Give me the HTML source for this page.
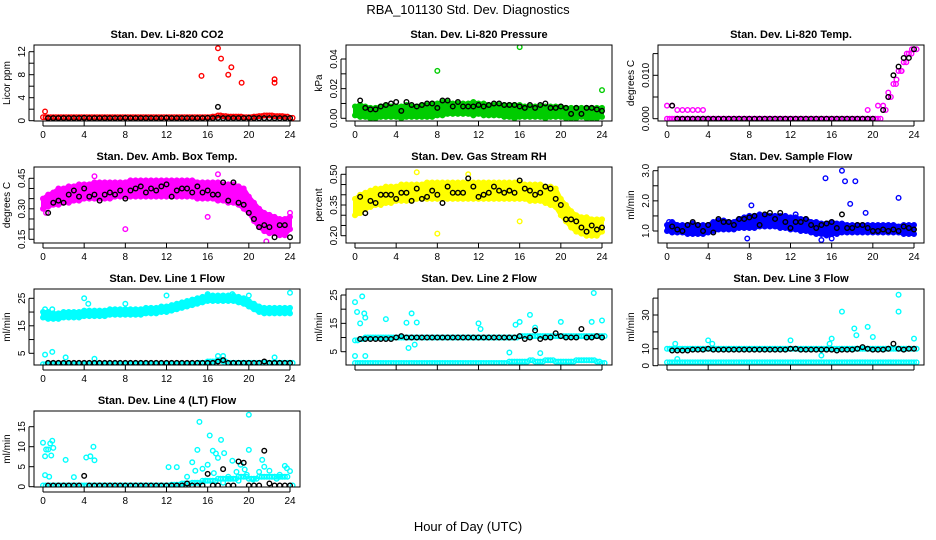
<!DOCTYPE html>
<html><head><meta charset="utf-8"><style>
body{margin:0;background:#fff}
svg{display:block;font-family:"Liberation Sans",sans-serif}
</style></head><body>
<svg id="c" width="936" height="540" viewBox="0 0 936 540">
<text x="468" y="14" text-anchor="middle" font-size="13">RBA_101130  Std. Dev. Diagnostics</text>
<text x="468" y="531" text-anchor="middle" font-size="13">Hour of Day (UTC)</text>
</svg>
<script>
const hours=[0,0.5,1,1.5,2,2.5,3,3.5,4,4.5,5,5.5,6,6.5,7,7.5,8,8.5,9,9.5,10,10.5,11,11.5,12,12.5,13,13.5,14,14.5,15,15.5,16,16.5,17,17.5,18,18.5,19,19.5,20,20.5,21,21.5,22,22.5,23,23.5,24];
const xTicks=[0,4,8,12,16,20,24];
// CO2
const co2Red=[0.6,0.6,0.6,0.6,0.6,0.6,0.6,0.6,0.6,0.6,0.6,0.6,0.6,0.6,0.6,0.6,0.6,0.6,0.6,0.6,0.6,0.6,0.6,0.6,0.6,0.6,0.6,0.6,0.6,0.6,0.6,0.6,0.6,0.7,0.9,0.8,0.7,0.7,0.7,0.6,0.6,0.7,0.8,0.9,0.9,0.8,0.8,0.7,0.5];
const co2Black=[null,0.45,0.45,0.45,0.45,0.45,0.45,0.45,0.5,0.45,0.45,0.45,0.45,0.45,0.45,0.45,0.5,0.45,0.45,0.45,0.45,0.45,0.45,0.45,0.5,0.45,0.45,0.45,0.45,0.45,0.45,0.45,0.5,0.45,0.5,0.45,0.45,0.45,0.45,0.45,0.5,0.45,0.45,0.45,0.45,0.45,0.45,0.45,0.45];
const co2OutX=[0.2,15.4,17,17.3,18,18.3,19.3,22.5,22.5];
const co2OutY=[1.6,7.8,12.6,10.8,8,9.3,6.6,7.2,6.6];
const co2BOutX=[17];const co2BOutY=[2.4];
// Pressure
const presHi=[0.008,0.009,0.008,0.007,0.007,0.008,0.009,0.008,0.008,0.008,0.009,0.008,0.008,0.009,0.009,0.010,0.010,0.011,0.011,0.010,0.010,0.010,0.010,0.011,0.010,0.010,0.009,0.009,0.009,0.009,0.009,0.009,0.009,0.008,0.008,0.008,0.008,0.008,0.008,0.008,0.008,0.007,0.007,0.007,0.007,0.007,0.007,0.007,0.007];
const presLo=[0.002,0.001,0.001,0.000,0.000,0.001,0.001,0.001,0.001,0.000,0.001,0.001,0.001,0.001,0.001,0.001,0.002,0.002,0.003,0.003,0.003,0.003,0.003,0.002,0.003,0.002,0.002,0.002,0.002,0.001,0.001,0.000,0.001,0.001,0.001,0.001,0.001,0.000,0.001,0.001,0.001,0.000,0.000,0.000,0.001,0.000,0.000,0.000,0.001];
const presBlack=[null,0.012,0.007,0.006,0.006,0.008,0.009,0.010,0.011,0.005,0.011,0.009,0.008,0.009,0.010,0.010,0.007,0.012,0.012,0.008,0.011,0.008,0.008,0.008,0.009,0.008,0.009,0.010,0.010,0.009,0.009,0.009,0.008,0.007,0.009,0.007,0.009,0.010,0.007,0.007,0.008,0.007,0.003,0.007,0.003,0.007,0.007,0.006,0.005];
const presOutX=[8,16,24];const presOutY=[0.032,0.048,0.019];
// Li-820 temp
const tempMag=[0,0,0,0,0,0,0,0,0,0,0,0,0,0,0,0,0,0,0,0,0,0,0,0,0,0,0,0,0,0,0,0,0,0,0,0,0,0,0,0,0,0,0.002,0.005,0.008,0.011,0.013,0.015,0.016];
const tempBlack=[null,0.003,0,0,0,0,0,0,0,0,0,0,0,0,0,0,0,0,0,0,0,0,0,0,0,0,0,0,0,0,0,0,0,0,0,0,0,0,0,0,0,null,0.002,0.005,0.010,0.012,0.014,0.014,0.016];
const tempOutX=[0,0.5,1,1.5,2,2.5,3,3.5,19.5,20.5,21,21.5,22.3,22.8,23.3,23.8];
const tempOutY=[0.003,0.003,0.002,0.002,0.002,0.002,0.002,0.002,0.002,0.003,0.003,0.006,0.009,0.011,0.015,0.016];
// Amb box temp
const ambHi=[0.35,0.37,0.38,0.40,0.40,0.41,0.41,0.42,0.42,0.42,0.43,0.43,0.43,0.43,0.43,0.43,0.43,0.44,0.44,0.44,0.44,0.44,0.44,0.44,0.44,0.44,0.44,0.44,0.44,0.44,0.43,0.43,0.43,0.43,0.43,0.42,0.42,0.42,0.41,0.40,0.36,0.33,0.30,0.28,0.27,0.26,0.25,0.25,0.26];
const ambLo=[0.30,0.31,0.32,0.32,0.33,0.33,0.34,0.34,0.35,0.35,0.35,0.35,0.35,0.35,0.36,0.36,0.36,0.36,0.36,0.36,0.36,0.36,0.36,0.36,0.36,0.36,0.36,0.36,0.36,0.36,0.35,0.35,0.35,0.35,0.34,0.34,0.33,0.33,0.32,0.30,0.28,0.24,0.21,0.19,0.18,0.18,0.17,0.17,0.20];
const ambBlack=[null,0.28,0.33,0.34,0.33,0.37,0.39,0.36,0.40,0.36,0.37,0.34,0.37,0.38,0.37,0.39,0.35,0.39,0.40,0.41,0.38,0.40,0.39,0.41,0.42,0.36,0.39,0.40,0.40,0.38,0.41,0.38,0.39,0.37,0.37,0.43,0.34,0.43,0.33,0.32,0.28,0.25,0.21,0.22,0.21,0.16,0.22,0.22,0.16];
const ambOutX=[8,16,0.3,21.7,24,17,5];const ambOutY=[0.20,0.26,0.28,0.14,0.28,0.47,0.46];
// RH
const rhHi=[0.38,0.40,0.41,0.42,0.43,0.43,0.44,0.44,0.44,0.45,0.45,0.45,0.45,0.45,0.46,0.46,0.46,0.46,0.46,0.46,0.46,0.46,0.46,0.46,0.46,0.46,0.46,0.46,0.46,0.46,0.46,0.46,0.46,0.45,0.45,0.45,0.45,0.44,0.44,0.43,0.38,0.35,0.32,0.30,0.29,0.29,0.28,0.28,0.28];
const rhLo=[0.30,0.31,0.33,0.34,0.35,0.35,0.36,0.36,0.37,0.37,0.37,0.37,0.38,0.38,0.38,0.38,0.38,0.38,0.38,0.38,0.38,0.38,0.38,0.38,0.38,0.38,0.38,0.38,0.38,0.38,0.38,0.38,0.38,0.38,0.37,0.37,0.37,0.36,0.35,0.34,0.30,0.27,0.24,0.22,0.21,0.20,0.20,0.20,0.22];
const rhBlack=[null,0.39,0.31,0.37,0.36,0.40,0.40,0.40,0.38,0.41,0.41,0.37,0.43,0.38,0.39,0.42,0.40,0.36,0.44,0.41,0.41,0.41,0.48,0.44,0.39,0.40,0.41,0.44,0.42,0.41,0.42,0.41,0.47,0.43,0.42,0.40,0.41,0.44,0.43,0.38,0.35,0.28,0.28,0.27,0.24,0.22,0.25,0.23,0.24];
const rhOutX=[8,16,6,11,24];const rhOutY=[0.21,0.27,0.51,0.50,0.28];
// Sample flow
const sfHi=[1.2,1.3,1.2,1.2,1.2,1.25,1.2,1.2,1.2,1.3,1.35,1.35,1.3,1.3,1.4,1.45,1.5,1.5,1.55,1.5,1.5,1.5,1.5,1.5,1.45,1.45,1.4,1.4,1.3,1.3,1.25,1.25,1.3,1.25,1.25,1.2,1.2,1.2,1.2,1.2,1.2,1.2,1.2,1.2,1.2,1.15,1.2,1.2,1.2];
const sfLo=[1.0,0.95,0.95,0.95,0.9,0.9,0.9,0.9,0.95,1.0,1.05,1.05,1.05,1.05,1.1,1.1,1.1,1.1,1.15,1.15,1.15,1.15,1.1,1.1,1.05,1.05,1.0,1.0,0.95,0.9,0.9,0.85,0.9,0.9,0.95,0.95,0.95,0.95,0.95,0.95,0.95,0.95,0.95,0.95,0.95,0.95,0.9,0.9,0.9];
const sfBlack=[null,1.15,1.05,1.0,1.2,1.3,1.2,1.0,1.2,0.95,1.4,1.3,1.3,1.2,1.4,1.4,1.45,1.5,1.2,1.55,1.6,1.4,1.6,1.3,1.1,1.3,1.3,1.4,1.2,1.1,1.2,1.25,1.3,1.1,1.55,1.1,1.1,1.2,1.2,1.1,1.0,1.0,1.05,1.0,1.05,1.0,1.15,1.1,1.05];
const sfOutX=[15.4,17,17.3,18.3,17.8,22.5,19.3,8.2,7.8,15,16,12.5,0.2];const sfOutY=[2.75,3.0,2.65,2.65,1.9,2.1,1.6,1.85,0.75,0.7,0.75,1.55,1.3];
// Line 1
const l1Hi=[20,20,19.5,19.5,20,20,20,20,20.5,20.5,20.5,20.5,20.5,21,21,21,21,21,21,21,21.5,21.5,21.5,22,22,22.5,23,23.5,24,24.5,25,25.5,26,26,26,26,26,26,25.5,25,24,23,22,21.5,21.5,21.5,21.5,21.5,21.5];
const l1Lo=[18,17.5,17.5,17.5,18,18,18,18,18.5,18.5,18.5,18.5,18.5,19,19,19,19,19,19,19,19.5,19.5,19.5,20,20,20.5,21,21.5,22,22.5,23,23.5,24,24,24,24,24,24,23.5,23,22,21,20,19.5,19.5,19.5,19.5,19.5,19.5];
const l1Low=[1,1,1,1,1,1,1,1,1,1,1,1,1,1,1,1,1,1,1,1,1,1,1,1,1,1,1,1,1,1,1.5,1.5,2,2,2.5,2,1.5,1.5,1.5,1.5,1.5,1.5,1.5,1.5,1.5,1.5,1.5,1.5,1.5];
const l1Black=[null,1.5,1.5,1.5,1.5,1.5,1.5,1.5,1.5,1.5,1.5,1.5,1.5,1.5,1.5,1.5,1.5,1.5,1.5,1.5,1.5,1.5,1.5,1.5,1.5,1.5,1.5,1.5,1.5,1.5,1.5,1.5,1.5,1.5,2,2.5,1.5,1.5,1.5,1.5,1.5,1.5,1.5,2,1.5,1.5,1.5,1.5,1.5];
const l1OutX=[0.2,0.9,4,4.4,8,12,16,18.4,20,24,0.2,0.9,2.2,5,17,17.5,22.5];const l1OutY=[4.5,5.5,25,23,23,26,26.5,26.5,26,27,21,21,3.5,3,4,4,3.5];
// Line 2
const l2Mid=[9,9.5,10,10,10,10,10,10,10,10,10,10,10,10,10,10,10,10,10,10,10,10,10,10,10,10,10,10,10,10,10,10,10.5,10.5,10.5,10.5,10.5,10.5,10.5,10.5,10.5,10.5,10.5,10.5,10.5,10.5,10.5,10.5,10.5];
const l2Low=[1,1,1,1,1,1,1,1,1,1,1,1,1,1,1,1,1,1,1,1,1,1,1,1,1,1,1,1,1,1,1.5,1.5,1.5,1.5,2,1.5,1.5,2,2,1.5,1.5,1.5,1.5,2,2,2,2,1.5,1];
const l2Black=[null,9.5,9.5,9.5,9.5,9.5,9.5,9.5,10,10.5,10,10,10,10,10,10,10,10,10,10,10,10,10,10,10,10,10,10,10,10,10,10,10.5,9.5,10,12.5,9.5,10,10,11.5,10.5,10,10,10,13,10,10,10.5,10];
const l2OutX=[0,0.2,0.7,0.9,1,0.5,3,5,5.5,5.2,6,5.8,12,12.2,15,15.6,17,20,23,24,23.2,0,1,16,18,17.5];const l2OutY=[22.5,19,24.5,18.5,17,15,16.5,15.2,18.5,6.3,15.3,7.5,15,13,4.7,14.5,18,15.5,15.5,16,25.7,3.5,3.5,15.5,4.5,13.5];
// Line 3
const l3Mid=[10,10,10,10,10,10,10,10,10,10,10,10,10,10,10,10,10,10,10,10,10,10,10,10,10,10,10,10,10,10,10,10,10,10,10,10,10,10,10,10,10,10,10,10,10,10,10,10,10];
const l3Low=[2,2,2,2,2,2,2,2,2,2,2,2,2,2,2,2,2,2,2,2,2,2,2,2,2,2,2,2,2,2,2,2,2,2,2,2,2,2,2,2,2,2,2,2,2,2,2,2,2];
const l3Black=[null,9,9,9,9,9.5,9.5,9.5,10,9.5,9.5,9.5,9.5,9.5,9.5,9.5,9.5,9.5,9.5,9.5,9.5,9.5,9.5,9.5,10,10,9.5,9.5,9.5,9.5,9.5,9.5,9.5,9,9.5,9.5,9.5,10,11,10,9.5,9.5,9.5,10,13,10,9.5,10,10];
const l3OutX=[22.5,22.5,17,18.2,19.5,18.4,20,24,4,12,16,0.8,4.4,15.8,1,15];const l3OutY=[42,32,32,22,23,18,17,16,15,15,16,13,13,13,4,6];
// Line 4
const l4Low=[0.3,0.3,0.3,0.3,0.3,0.3,0.3,0.3,0.3,0.3,0.3,0.3,0.3,0.3,0.3,0.3,0.3,0.3,0.3,0.3,0.3,0.3,0.3,0.3,0.3,0.5,0.5,0.8,0.8,1,1,1.5,1.5,1.5,2,2,2,2,2.5,2.5,2,2,2.5,2.5,2.5,2.5,2.5,2.5,0.3];
const l4Black=[null,0.3,0.3,0.3,0.3,0.3,0.3,0.3,2.7,0.3,0.3,0.3,0.3,0.3,0.3,0.3,0.3,0.3,0.3,0.3,0.3,0.3,0.3,0.3,0.3,0.3,0.3,0.3,0.8,0.3,0.3,0.3,3.2,0.3,0.3,4.4,0.3,0.3,6.3,6,0.3,0.3,0.3,9,0.8,0.3,0.3,0.3,0.3];
const l4OutX=[0,0.2,0.3,0.5,0.7,0.8,0.9,1,0.2,0.6,2.2,3,4.2,4.6,4.9,5,12.2,13,14,14.5,15,15.2,15.5,16,16.2,16.5,16.8,17,17.3,17.6,18,18.4,18.8,19.2,19.6,20,20,20.4,21,21.5,22,22.5,23,23.5,24,15.8,16.6,18.2,19,21.3,22.7,23.7,17.5,14.8,19.8];
const l4OutY=[11,7.6,9.3,9.3,10.8,7.8,11.5,9.7,2.9,2.5,6.7,2.4,7.3,7.6,10,6.6,4.9,4.9,2.5,6.1,9.2,16.2,4.5,5.5,12.8,9,8.3,7.2,11.7,8.4,2.5,6.5,3.7,5.5,4.3,18,9.2,1.8,3.7,5,4,2.5,3,5.2,3.9,1.5,3.4,2,1.5,6.7,2,4.6,1,4,3];

const svg=document.getElementById('c');
const NS='http://www.w3.org/2000/svg';
function el(tag,attrs,parent){const e=document.createElementNS(NS,tag);for(const k in attrs)e.setAttribute(k,attrs[k]);(parent||svg).appendChild(e);return e;}

const panels=[
 {col:0,row:0,title:'Stan. Dev. Li-820 CO2',ylab:'Licor ppm',v1:0,p1:120.7,v2:12,p2:51.7,ticks:[0,2,4,6,8,10,12],labels:['0','','4','','8','','12'],xl:true,
  band:null,main:[[co2Red,'#ff0000']],black:co2Black,out:[[co2OutX,co2OutY,'#ff0000'],[co2BOutX,co2BOutY,'#000']]},
 {col:1,row:0,title:'Stan. Dev. Li-820 Pressure',ylab:'kPa',v1:0,p1:118.3,v2:0.04,p2:59,ticks:[0,0.01,0.02,0.03,0.04],labels:['0.00','','0.02','','0.04'],xl:true,
  band:[presLo,presHi,'#00cc00'],main:[],black:presBlack,out:[[presOutX,presOutY,'#00cc00']]},
 {col:2,row:0,title:'Stan. Dev. Li-820 Temp.',ylab:'degrees C',v1:0,p1:118.7,v2:0.01,p2:75.3,ticks:[0,0.005,0.01,0.015],labels:['0.000','','0.010',''],xl:true,
  band:null,main:[[tempMag,'#ff00ff']],black:tempBlack,out:[[tempOutX,tempOutY,'#ff00ff']]},
 {col:0,row:1,title:'Stan. Dev. Amb. Box Temp.',ylab:'degrees C',v1:0.15,p1:239.3,v2:0.45,p2:178.3,ticks:[0.15,0.2,0.25,0.3,0.35,0.4,0.45],labels:['0.15','','','0.30','','','0.45'],xl:true,
  band:[ambLo,ambHi,'#ff00ff'],main:[],black:ambBlack,out:[[ambOutX,ambOutY,'#ff00ff']]},
 {col:1,row:1,title:'Stan. Dev. Gas Stream RH',ylab:'percent',v1:0.2,p1:235.7,v2:0.5,p2:174.3,ticks:[0.2,0.25,0.3,0.35,0.4,0.45,0.5],labels:['0.20','','','0.35','','','0.50'],xl:true,
  band:[rhLo,rhHi,'#ffff00'],main:[],black:rhBlack,out:[[rhOutX,rhOutY,'#ffff00']]},
 {col:2,row:1,title:'Stan. Dev. Sample Flow',ylab:'ml/min',v1:1,p1:231,v2:3,p2:170.7,ticks:[1,1.5,2,2.5,3],labels:['1.0','','2.0','','3.0'],xl:true,
  band:[sfLo,sfHi,'#0000ff'],main:[],black:sfBlack,out:[[sfOutX,sfOutY,'#0000ff']]},
 {col:0,row:2,title:'Stan. Dev. Line 1 Flow',ylab:'ml/min',v1:5,p1:353.3,v2:25,p2:298.3,ticks:[5,10,15,20,25],labels:['5','','15','','25'],xl:true,
  band:[l1Lo,l1Hi,'#00ffff'],main:[[l1Low,'#00ffff']],black:l1Black,out:[[l1OutX,l1OutY,'#00ffff']]},
 {col:1,row:2,title:'Stan. Dev. Line 2 Flow',ylab:'ml/min',v1:5,p1:351.7,v2:25,p2:295,ticks:[5,10,15,20,25],labels:['5','','15','','25'],xl:false,
  band:null,main:[[l2Mid,'#00ffff'],[l2Low,'#00ffff']],black:l2Black,out:[[l2OutX,l2OutY,'#00ffff']]},
 {col:2,row:2,title:'Stan. Dev. Line 3 Flow',ylab:'ml/min',v1:0,p1:365.7,v2:30,p2:315,ticks:[0,10,20,30,40],labels:['0','10','','30',''],xl:false,
  band:null,main:[[l3Mid,'#00ffff'],[l3Low,'#00ffff']],black:l3Black,out:[[l3OutX,l3OutY,'#00ffff']]},
 {col:0,row:3,title:'Stan. Dev. Line 4 (LT) Flow',ylab:'ml/min',v1:0,p1:486.7,v2:15,p2:426.7,ticks:[0,5,10,15],labels:['0','5','10','15'],xl:true,
  band:null,main:[[l4Low,'#00ffff']],black:l4Black,out:[[l4OutX,l4OutY,'#00ffff']]}
];

panels.forEach((p,i)=>{
  const ox=312*p.col, oy=122*p.row;
  const L=34+ox, R=300+ox, T=45+oy, B=121+oy;
  const X=h=>43+ox+h*247/24;
  const Y=v=>p.p1+(v-p.v1)*(p.p2-p.p1)/(p.v2-p.v1);
  const g=el('g',{});
  
  
  const cp=el('clipPath',{id:'cp'+i},g);el('rect',{x:L,y:T,width:R-L,height:B-T},cp);
  const t=el('text',{x:(L+R)/2,y:T-7,'text-anchor':'middle','font-size':'11','font-weight':'bold'},g);t.textContent=p.title;
  
  
  const yl=el('text',{x:0,y:0,transform:`translate(${L-24},${(T+B)/2}) rotate(-90)`,'text-anchor':'middle','font-size':'10'},g);yl.textContent=p.ylab;
  
  
  const d=el('g',{'clip-path':`url(#cp${i})`},g);
  
  
  const circ=(h,v,c)=>{if(v===null||v===undefined)return;const e=el('circle',{cx:X(h),cy:Y(v),r:2.3,fill:'none',stroke:c,'stroke-width':1.4},d);
    
    };
  if(p.band){const [lo,hi,c]=p.band;let pts=hours.map((h,k)=>X(h)+','+Y(hi[k])).join(' ')+' '+hours.slice().reverse().map((h,k)=>X(h)+','+Y(lo[hours.length-1-k])).join(' ');
    const pg=el('polygon',{points:pts,fill:c,stroke:c,'stroke-width':4,'stroke-linejoin':'round'},d);
    
    
    hours.forEach((h,k)=>{circ(h,hi[k],c);circ(h,lo[k],c);});}
  p.main.forEach(([arr,c])=>{hours.forEach((h,k)=>{circ(h,arr[k],c);circ(h+0.25,arr[k],c);});});
  p.out.forEach(([xs,ys,c])=>xs.forEach((h,k)=>circ(h,ys[k],c)));
  hours.forEach((h,k)=>circ(h,p.black[k],'#000'));
  const box=el('rect',{x:L,y:T,width:R-L,height:B-T,fill:'none',stroke:'#000','stroke-width':1},g);
  
  
  xTicks.forEach(h=>{el('line',{x1:X(h),x2:X(h),y1:B,y2:B+5,stroke:'#000'},g);
    if(p.xl){const tx=el('text',{x:X(h),y:B+17,'text-anchor':'middle','font-size':'10'},g);tx.textContent=h;
      
      }});
  el('line',{x1:X(0),x2:X(24),y1:B+5,y2:B+5,stroke:'#000'},g);
  p.ticks.forEach((v,k)=>{if(Y(v)<T-1)return;el('line',{x1:L-5,x2:L,y1:Y(v),y2:Y(v),stroke:'#000'},g);
    if(p.labels[k]){const ty=el('text',{x:0,y:0,transform:`translate(${L-9},${Y(v)}) rotate(-90)`,'text-anchor':'middle','font-size':'10'},g);ty.textContent=p.labels[k];
      
      }});
  const vis=p.ticks.filter(v=>Y(v)>=T-1);
  el('line',{x1:L-5,x2:L-5,y1:Y(vis[0]),y2:Y(vis[vis.length-1]),stroke:'#000'},g);
});
</script>
</body></html>
